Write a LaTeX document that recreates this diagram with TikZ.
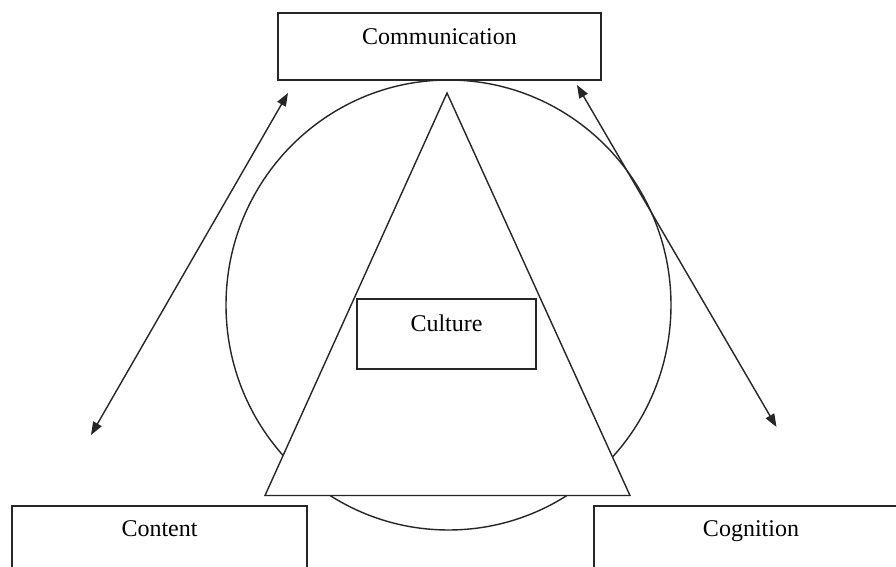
\documentclass[tikz,border=0pt]{standalone}
\usepackage{fontspec}
\setmainfont{Liberation Serif}
\usetikzlibrary{arrows.meta}
\begin{document}
\begin{tikzpicture}[x=0.5pt,y=-0.5pt,
  ln/.style={draw=black!85, line width=0.7pt},
  box/.style={ln, rectangle, inner sep=0pt, fill=white},
  lab/.style={anchor=north, inner sep=0pt, yshift=-8.2pt, font=\fontsize{12}{14}\selectfont},
  arr/.style={ln, {Triangle[length=6.5pt,width=4.8pt]}-{Triangle[length=6.5pt,width=4.8pt]}}]
\useasboundingbox (0,0) rectangle (896,567);
\fill[white] (0,0) rectangle (896,567);
% circle and triangle
\draw[ln] (448.5,305) ellipse [x radius=111.25pt, y radius=112.5pt];
\coordinate (tapex) at (447,93);
\coordinate (tleft) at (265,495.5);
\coordinate (tright) at (630,495.5);
\draw[ln, fill=white, line join=miter] (tapex) -- (tleft) -- (tright) -- cycle;
% boxes
\node[box, minimum width=161.5pt, minimum height=33.5pt, label={[lab]north:Communication}] (comm) at (439.5,46.5) {};
\node[box, minimum width=89.5pt, minimum height=35pt, label={[lab]north:Culture}] (cult) at (446.5,334) {};
\node[box, minimum width=147.5pt, minimum height=57pt, label={[lab,yshift=0.6pt]north:Content}] (cont) at (159.5,563) {};
\node[box, minimum width=157pt, minimum height=57pt, label={[lab,yshift=0.6pt]north:Cognition}] (cogn) at (751,563) {};
% arrows
\coordinate (la) at (91,435);
\coordinate (lb) at (288,93);
\coordinate (ra) at (577,85);
\coordinate (rb) at (776.5,427);
\draw[arr] (la) -- (lb);
\draw[arr] (ra) -- (rb);
\end{tikzpicture}
\end{document}
